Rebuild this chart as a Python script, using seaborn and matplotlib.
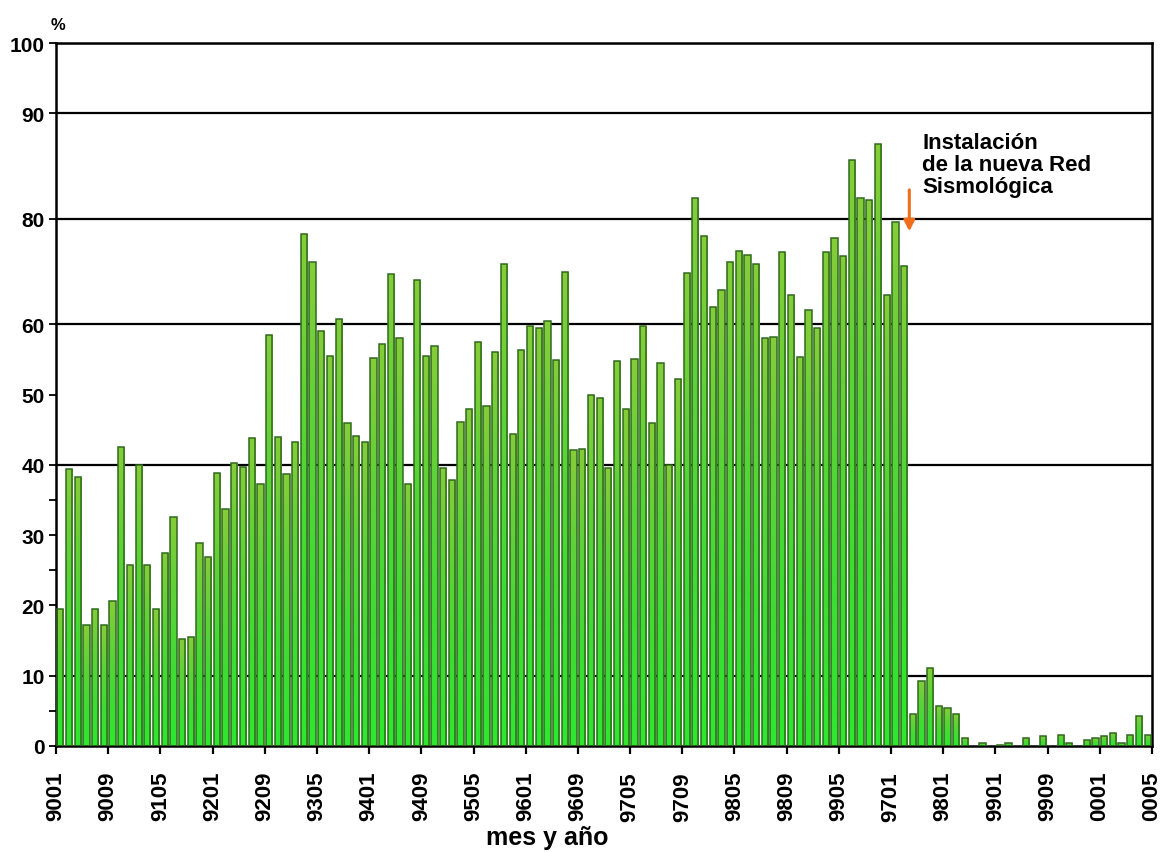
import numpy as np
import pandas as pd
import matplotlib
matplotlib.use("Agg")
import matplotlib.pyplot as plt
import seaborn as sns
from matplotlib.colors import LinearSegmentedColormap

# Porcentaje mensual, enero 1990 a mayo/junio 2000
porcentaje = [
    19.5, 39.4, 38.2, 17.2, 19.5, 17.2, 20.6, 42.5, 25.7, 40.0, 25.7, 19.5,
    27.4, 32.6, 15.2, 15.5, 28.9, 26.9, 38.8, 33.7, 40.3,
    39.7, 43.8, 37.3, 58.5, 44.0, 38.7, 43.3, 72.8, 68.8, 59.1, 55.5, 60.8,
    45.9, 44.1, 43.3, 55.2, 57.2, 67.1, 58.1, 37.3, 66.3, 55.5,
    56.9, 39.6, 37.8, 46.1, 48.0, 57.5, 48.4, 56.0, 68.5, 44.4, 56.3, 59.8,
    59.4, 60.5, 54.9, 67.4, 42.1, 42.3, 50.0, 49.5, 39.6,
    54.8, 48.0, 55.0, 59.7, 46.0, 54.5, 40.0, 52.2, 67.3, 77.9, 72.5, 62.5,
    64.8, 68.8, 70.4, 69.8, 68.5, 58.0, 58.2, 70.2, 64.2,
    55.4, 62.0, 59.4, 70.2, 72.2, 69.7, 83.3, 77.9, 77.6, 85.6, 64.2, 74.5,
    68.3, 4.6, 9.3, 11.1, 5.7, 5.4, 4.6, 1.1,
    0.0, 0.4, 0.0, 0.2, 0.45, 0.0, 1.1, 0.0, 1.4, 0.0, 1.6, 0.45, 0.0, 0.8,
    1.1, 1.4, 1.8, 0.45, 1.6, 4.2, 1.6,
]

etiquetas_mes = ['9001', '9009', '9105', '9201', '9209', '9305', '9401', '9409',
                 '9505', '9601', '9609', '9705', '9709', '9805', '9809', '9905',
                 '9701', '9801', '9901', '9909', '0001', '0005']
paso_etiquetas = 6

marcas_y = [0, 10, 20, 30, 40, 50, 60, 75, 90, 100]
etiquetas_y = ['0', '10', '20', '30', '40', '50', '60', '80', '90', '100']
marcas_menores = [5, 25, 35]
lineas_ref = [10, 40, 60, 75, 90, 100]

texto_nota = "Instalación\nde la nueva Red\nSismológica"

sns.set_theme(style="white")
plt.rcParams['font.family'] = ['Liberation Sans', 'DejaVu Sans']
plt.rcParams['text.color'] = 'black'
plt.rcParams['xtick.color'] = 'black'
plt.rcParams['ytick.color'] = 'black'
plt.rcParams['xtick.labelcolor'] = 'black'
plt.rcParams['ytick.labelcolor'] = 'black'

W, H = 1164, 853
fig = plt.figure(figsize=(W / 100, H / 100), dpi=100)
fig.patch.set_facecolor('white')
ax = fig.add_axes([56 / W, 1 - 747 / H, (1152 - 56) / W, (747 - 44) / H])
ax.set_facecolor('white')

df = pd.DataFrame({'mes': np.arange(len(porcentaje)), 'pct': porcentaje})
sns.barplot(data=df, x='mes', y='pct', color='#3fd33a', width=0.72,
            edgecolor='#2f6a1e', linewidth=1.1, ax=ax, zorder=3)

# vertical gradient fill inside each bar
verde = LinearSegmentedColormap.from_list(
    'verde', ['#2ee82e', '#3fdc34', '#5ed238', '#86cc3a'])
grad = np.linspace(0, 1, 128).reshape(-1, 1)
for p in ax.patches:
    h = p.get_height()
    if h <= 0:
        p.set_visible(False)
        continue
    x0, w = p.get_x(), p.get_width()
    im = ax.imshow(grad, cmap=verde, origin='lower', aspect='auto',
                   extent=[x0, x0 + w, 0, h], zorder=2.5,
                   interpolation='bilinear')
    im.set_clip_path(p)
    p.set_facecolor('none')

for v in lineas_ref:
    ax.axhline(v, color='black', lw=1.6, zorder=1)

n = len(porcentaje)
ax.set_xlim(-0.5, n - 0.5)
ax.set_ylim(0, 100)

ax.set_xticks(np.arange(len(etiquetas_mes)) * paso_etiquetas - 0.5)
ax.set_xticklabels(etiquetas_mes, rotation=90, fontweight='bold', fontsize=16)
ax.set_yticks(marcas_y)
ax.set_yticklabels(etiquetas_y, fontweight='bold', fontsize=15)
ax.set_yticks(marcas_menores, minor=True)

ax.tick_params(axis='x', bottom=True, direction='out', length=6, width=1.6,
               color='black', pad=12)
ax.tick_params(axis='y', which='both', left=True, direction='out', length=5,
               width=1.3, color='black', pad=3)
ax.set_xlabel('')
ax.set_ylabel('')

for s in ax.spines.values():
    s.set_visible(True)
    s.set_color('black')
    s.set_linewidth(1.8)

# annotation: network installation
x_flecha = 97.6
ax.annotate('', xy=(x_flecha, 72.8), xytext=(x_flecha, 79.5),
            arrowprops=dict(arrowstyle='-|>', color='#ee6e1c', lw=2.2,
                            mutation_scale=16), zorder=5)
ax.text(99.1, 87.3, texto_nota, ha='left', va='top', fontsize=16,
        fontweight='bold', linespacing=1.05, zorder=5, color='black')

fig.text(58 / W, 1 - 26 / H, '%', ha='center', va='center', fontsize=12,
         fontweight='bold', color='black')
fig.text(547 / W, 1 - 838 / H, 'mes y año', ha='center', va='center',
         fontsize=18, fontweight='bold', color='black')

fig.savefig('out.png', dpi=100, facecolor='white')
